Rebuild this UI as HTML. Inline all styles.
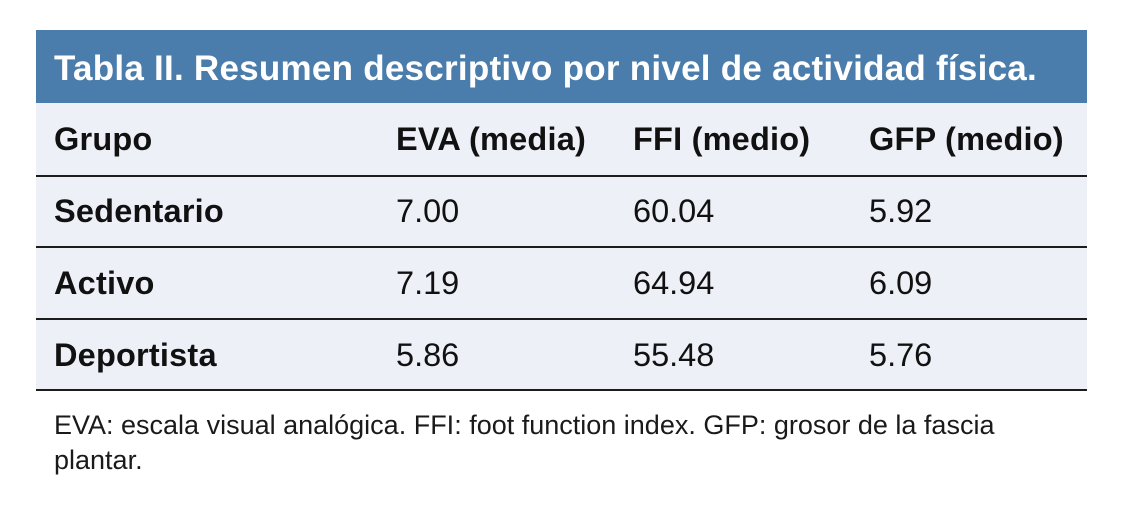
<!DOCTYPE html>
<html>
<head>
<meta charset="utf-8">
<style>
  html, body { margin:0; padding:0; background:#ffffff; }
  body { width:1122px; height:510px; position:relative; overflow:hidden; font-family:"Liberation Sans", Arial, sans-serif; }
  .bg { position:absolute; left:36px; top:103px; width:1051px; height:287px; background:#edf0f7; }
  .hdr { position:absolute; left:36px; top:30px; width:1051px; height:73px; background:#4a7dab; }
  .line { position:absolute; left:36px; width:1051px; height:2px; background:#1c1c1c; }
  .t { position:absolute; line-height:1; white-space:nowrap; color:#111; }
  .title { font-size:35px; font-weight:bold; color:#fff; left:54px; top:50.5px; letter-spacing:0.25px; }
  .b { font-weight:bold; font-size:32.5px; letter-spacing:0.2px; }
  .r { font-size:32.5px; }
  .fn { font-size:27px; color:#1a1a1a; left:54px; }
</style>
</head>
<body>
  <div class="hdr"></div>
  <div class="bg"></div>
  <div class="t title">Tabla II. Resumen descriptivo por nivel de actividad física.</div>

  <div class="t b" style="left:54px; top:122.5px;">Grupo</div>
  <div class="t b" style="left:396px; top:122.5px;">EVA (media)</div>
  <div class="t b" style="left:633px; top:122.5px;">FFI (medio)</div>
  <div class="t b" style="left:869px; top:122.5px;">GFP (medio)</div>
  <div class="line" style="top:175px;"></div>

  <div class="t b" style="left:54px; top:195px;">Sedentario</div>
  <div class="t r" style="left:396px; top:195px;">7.00</div>
  <div class="t r" style="left:633px; top:195px;">60.04</div>
  <div class="t r" style="left:869px; top:195px;">5.92</div>
  <div class="line" style="top:246px;"></div>

  <div class="t b" style="left:54px; top:266.5px;">Activo</div>
  <div class="t r" style="left:396px; top:266.5px;">7.19</div>
  <div class="t r" style="left:633px; top:266.5px;">64.94</div>
  <div class="t r" style="left:869px; top:266.5px;">6.09</div>
  <div class="line" style="top:318px;"></div>

  <div class="t b" style="left:54px; top:338.5px;">Deportista</div>
  <div class="t r" style="left:396px; top:338.5px;">5.86</div>
  <div class="t r" style="left:633px; top:338.5px;">55.48</div>
  <div class="t r" style="left:869px; top:338.5px;">5.76</div>
  <div class="line" style="top:389px;"></div>

  <div class="t fn" style="top:412px;">EVA: escala visual analógica. FFI: foot function index. GFP: grosor de la fascia</div>
  <div class="t fn" style="top:447px;">plantar.</div>
</body>
</html>
